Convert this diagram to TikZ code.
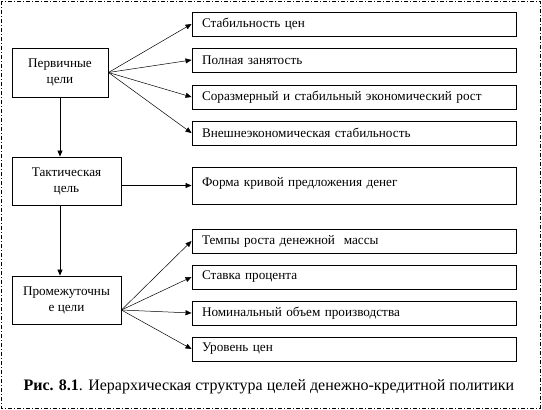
\documentclass[tikz,border=0pt]{standalone}
\usepackage{fontspec}
\setmainfont{Liberation Serif}
\newfontfamily\tnr{Liberation Serif}
\usetikzlibrary{arrows.meta}
\begin{document}
\begin{tikzpicture}[x=1pt,y=-1pt,
  every node/.style={font=\tnr\fontsize{13.2}{16}\selectfont},
  leftbox/.style={draw,line width=0.9pt,align=center,inner sep=0pt},
  rightbox/.style={draw,line width=0.9pt,align=left,inner xsep=10pt,inner ysep=0pt,text width=304pt,minimum height=24pt},
  arr/.style={-{Triangle[length=6pt,width=5pt]},line width=0.5pt},
  varr/.style={-{Triangle[length=6pt,width=5pt]},line width=0.8pt}]
\useasboundingbox (0,0) rectangle (542,410);
\draw[line width=0.8pt,dash pattern=on 4pt off 2pt on 1pt off 2pt] (1,1) rectangle (540,408);
% left boxes
\node[leftbox,minimum width=96pt,minimum height=49pt] (P) at (60,72.5) {Первичные\\цели};
\node[leftbox,minimum width=109pt,minimum height=48pt] (T) at (66.5,181) {Тактическая\\цель};
\node[leftbox,minimum width=109pt,minimum height=48pt] (I) at (66.5,300) {Промежуточны\\е цели};
% right boxes
\node[rightbox] (r1) at (354,24) {Стабильность цен};
\node[rightbox] (r2) at (354,60) {Полная занятость};
\node[rightbox] (r3) at (354,97) {Соразмерный и стабильный экономический рост};
\node[rightbox] (r4) at (354,133) {Внешнеэкономическая стабильность};
\node[rightbox,minimum height=37pt,text depth=8pt] (f) at (354,185.5) {Форма кривой предложения денег};
\node[rightbox] (s1) at (354,241) {Темпы роста денежной\ \ массы};
\node[rightbox] (s2) at (354,277) {Ставка процента};
\node[rightbox] (s3) at (354,313) {Номинальный объем производства};
\node[rightbox] (s4) at (354,349) {Уровень цен};
% connectors
\foreach \t in {r1,r2,r3,r4} \draw[arr] (P.east) -- (\t.west);
\draw[arr] (T.east |- f.west) -- (f.west);
\coordinate (Ifan) at ([yshift=-10pt]I.east);
\foreach \t in {s1,s2,s3,s4} \draw[arr] (Ifan) -- (\t.west);
\draw[varr] (P.south) -- (P.south |- T.north);
\draw[varr] (P.south |- T.south) -- (P.south |- I.north);
% caption
\node[anchor=west,font=\tnr\fontsize{16}{18}\selectfont] (cap) at (20,387) {\textbf{Рис. 8.1}. Иерархическая структура целей денежно-кредитной политики};
\end{tikzpicture}
\end{document}
